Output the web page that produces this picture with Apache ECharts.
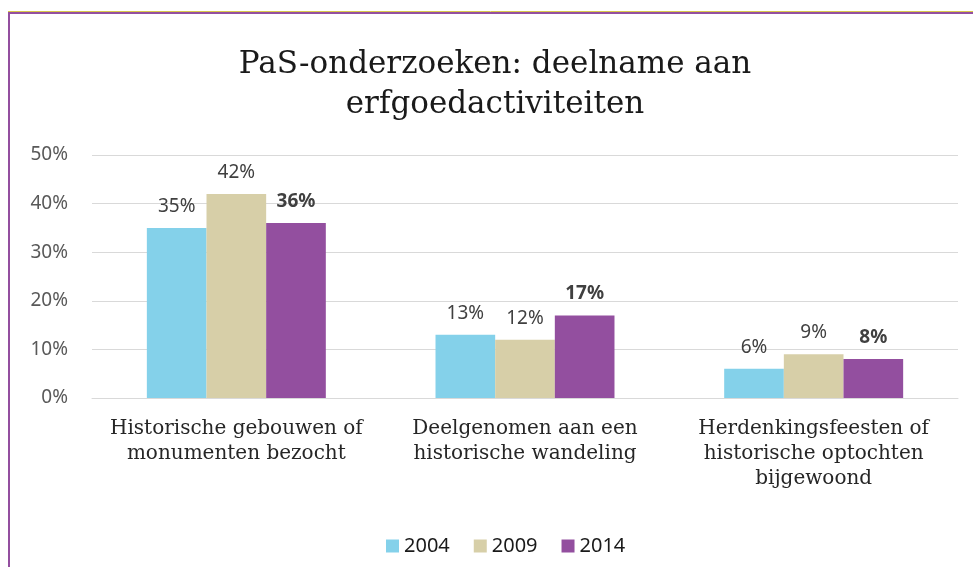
<!DOCTYPE html>
<html>
<head>
<meta charset="utf-8">
<script src="https://cdn.jsdelivr.net/npm/echarts@6/dist/echarts.min.js"></script>
<style>
  html, body { margin: 0; padding: 0; background: #ffffff; }
  #chart { width: 973px; height: 567px; }
</style>
</head>
<body>
<div id="chart"></div>
<script>
// categorieën en waarden (in %)
var categories = [
  'Historische gebouwen of\nmonumenten bezocht',
  'Deelgenomen aan een\nhistorische wandeling',
  'Herdenkingsfeesten of\nhistorische optochten\nbijgewoond'
];
var years = ['2004', '2009', '2014'];
var values2004 = [35, 13, 6];
var values2009 = [42, 12, 9];
var values2014 = [36, 17, 8];
var yTicks = [0, 10, 20, 30, 40, 50];

var colors = ['#84d1ea', '#d7cfa8', '#934f9f'];
var serif = '"DejaVu Serif", "Liberation Serif", serif';
var sans = '"Noto Sans", sans-serif';

function barSeries(name, data, color, bold) {
  return {
    name: name,
    type: 'bar',
    data: data,
    barGap: '0%',
    barCategoryGap: '38%',
    itemStyle: { color: color },
    label: {
      show: true,
      position: 'top',
      distance: 12,
      formatter: '{c}%',
      fontFamily: sans,
      fontSize: 19,
      fontWeight: bold ? 'bold' : 'normal',
      color: '#404040'
    }
  };
}

var option = {
  backgroundColor: '#ffffff',
  animation: false,
  title: {
    text: 'PaS-onderzoeken: deelname aan\nerfgoedactiviteiten',
    left: 490,
    textAlign: 'center',
    top: 40,
    textStyle: {
      fontFamily: serif,
      fontWeight: 'normal',
      fontSize: 31,
      lineHeight: 40,
      color: '#1a1a1a'
    }
  },
  legend: {
    data: years,
    left: 381,
    top: 531,
    itemWidth: 13,
    itemHeight: 13,
    itemGap: 24,
    icon: 'rect',
    textStyle: { fontFamily: sans, fontSize: 20, color: '#1a1a1a' }
  },
  grid: { left: 92, right: 15, top: 155, bottom: 169 },
  xAxis: {
    type: 'category',
    data: categories,
    axisLine: { lineStyle: { color: '#d9d9d9', width: 1 } },
    axisTick: { show: false },
    axisLabel: {
      fontFamily: serif,
      fontSize: 20,
      lineHeight: 25,
      color: '#262626',
      margin: 18,
      interval: 0
    }
  },
  yAxis: {
    type: 'value',
    min: yTicks[0],
    max: yTicks[yTicks.length - 1],
    interval: 10,
    axisLine: { show: false },
    axisTick: { show: false },
    splitLine: { lineStyle: { color: '#d9d9d9', width: 1 } },
    axisLabel: {
      formatter: '{value}%',
      fontFamily: sans,
      fontSize: 19,
      color: '#595959',
      margin: 24
    }
  },
  graphic: [
    { type: 'line', shape: { x1: 8, y1: 11.5, x2: 973, y2: 11.5 }, style: { stroke: '#d8c84a', lineWidth: 1 } },
    { type: 'line', shape: { x1: 8, y1: 13, x2: 973, y2: 13 }, style: { stroke: '#934f9f', lineWidth: 2 } },
    { type: 'line', shape: { x1: 9, y1: 12, x2: 9, y2: 567 }, style: { stroke: '#934f9f', lineWidth: 2 } }
  ],
  series: [
    barSeries(years[0], values2004, colors[0], false),
    barSeries(years[1], values2009, colors[1], false),
    barSeries(years[2], values2014, colors[2], true)
  ]
};

var myChart = echarts.init(document.getElementById('chart'));
myChart.setOption(option);
</script>
</body>
</html>
